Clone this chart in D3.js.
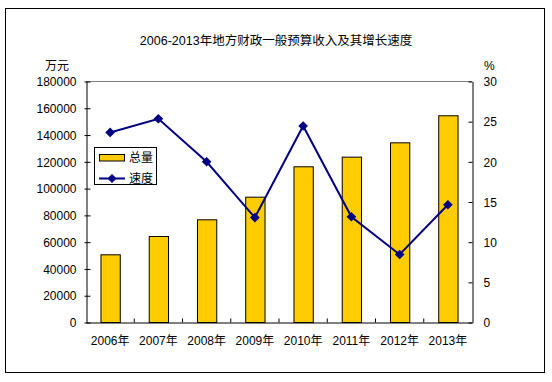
<!DOCTYPE html>
<html>
<head>
<meta charset="utf-8">
<script src="https://cdn.jsdelivr.net/npm/d3@7"></script>
<style>
html,body{margin:0;padding:0;background:#fff;}
text{font-family:"Liberation Sans","Noto Sans CJK SC",Arial,sans-serif;fill:#000;}
</style>
</head>
<body>
<svg id="chart" width="552" height="382"></svg>
<script>
const categories = ["2006年","2007年","2008年","2009年","2010年","2011年","2012年","2013年"];
const totalValues = [50560, 64230, 76700, 93600, 116300, 123500, 134200, 154400];
const speedValues = [23.6, 25.3, 19.95, 13.0, 24.4, 13.1, 8.4, 14.6];
const leftTicks = [0,20000,40000,60000,80000,100000,120000,140000,160000,180000];
const rightTicks = [0,5,10,15,20,25,30];
const titleText = "2006-2013年地方财政一般预算收入及其增长速度";
const leftUnit = "万元";
const rightUnit = "%";
const legendLabels = ["总量","速度"];

const svg = d3.select("#chart");
const L = 86, R = 472, T = 81, B = 322;

// outer frame
svg.append("rect").attr("x",5.5).attr("y",8.5).attr("width",539).attr("height",364)
  .attr("fill","none").attr("stroke","#000").attr("stroke-width",1);

const x = d3.scaleBand().domain(categories).range([L,R]).paddingInner(0.6).paddingOuter(0.3);
const yL = d3.scaleLinear().domain([0,180000]).range([B,T]);
const yR = d3.scaleLinear().domain([0,30]).range([B,T]);

// title
svg.append("text").attr("x",276).attr("y",45).attr("text-anchor","middle")
  .style("font-size","12.5px").text(titleText);

// units
svg.append("text").attr("x",57).attr("y",70).attr("text-anchor","middle").style("font-size","12px").text(leftUnit);
svg.append("text").attr("x",484).attr("y",70).attr("text-anchor","start").style("font-size","12px").text(rightUnit);

// top border of plot
svg.append("line").attr("x1",L).attr("x2",R).attr("y1",T+0.5).attr("y2",T+0.5).attr("stroke","#808080");

// bars
svg.append("g").selectAll("rect").data(categories).join("rect")
  .attr("x",(d)=>x(d)+0.5)
  .attr("y",(d,i)=>yL(totalValues[i])+0.5)
  .attr("width",x.bandwidth())
  .attr("height",(d,i)=>B-yL(totalValues[i]))
  .attr("fill","#FFCC00").attr("stroke","#000").attr("stroke-width",1);

// left axis
const gL = svg.append("g").attr("transform",`translate(${L+0.5},0.5)`)
  .call(d3.axisLeft(yL).tickValues(leftTicks).tickFormat(d3.format("d")).tickSizeInner(-4).tickSizeOuter(0).tickPadding(10));
gL.selectAll("text").style("font-size","12px").attr("dy","0.35em");
gL.selectAll("path,line").attr("stroke","#000");
gL.selectAll(".tick line").attr("x1",-2).attr("x2",4);

// right axis
const gR = svg.append("g").attr("transform",`translate(${R+0.5},0.5)`)
  .call(d3.axisRight(yR).tickValues(rightTicks).tickSizeInner(-4).tickSizeOuter(0).tickPadding(11));
gR.selectAll("text").style("font-size","12px").attr("dy","0.35em");
gR.selectAll("path,line").attr("stroke","#000");

// bottom axis
const gB = svg.append("g").attr("transform",`translate(0,${B+0.5})`)
  .call(d3.axisBottom(x).tickSize(0).tickPadding(14));
gB.selectAll("text").style("font-size","12px");
gB.select(".domain").attr("stroke","#000");
gB.selectAll(".tick").each(function(d){
  if (categories.indexOf(d) > 0) {
    d3.select(this).append("line")
      .attr("x1",-x.step()/2).attr("x2",-x.step()/2).attr("y1",0).attr("y2",-4).attr("stroke","#000");
  }
});

// line
const cx = (d)=>x(d)+x.bandwidth()/2;
const line = d3.line().x((d,i)=>cx(categories[i])).y((d)=>yR(d));
svg.append("path").datum(speedValues).attr("d",line)
  .attr("fill","none").attr("stroke","#000080").attr("stroke-width",2);
const diamond = d3.symbol().type(d3.symbolDiamond2 || d3.symbolDiamond).size(55);
svg.append("g").selectAll("path").data(speedValues).join("path")
  .attr("transform",(d,i)=>`translate(${cx(categories[i])},${yR(d)}) rotate(0)`)
  .attr("d",d3.symbol().type(d3.symbolSquare).size(34))
  .attr("transform",(d,i)=>`translate(${cx(categories[i])},${yR(d)}) rotate(45)`)
  .attr("fill","#000080").attr("stroke","#000080");

// legend
const lg = svg.append("g");
lg.append("rect").attr("x",94.5).attr("y",147.5).attr("width",62).attr("height",37)
  .attr("fill","#fff").attr("stroke","#000");
lg.append("rect").attr("x",99.5).attr("y",154.5).attr("width",25).attr("height",6.5)
  .attr("fill","#FFCC00").attr("stroke","#000");
lg.append("text").attr("x",129).attr("y",158).attr("dy","0.35em").style("font-size","12px").text(legendLabels[0]);
lg.append("line").attr("x1",99).attr("x2",125).attr("y1",178.5).attr("y2",178.5).attr("stroke","#000080").attr("stroke-width",2);
lg.append("path").attr("d",d3.symbol().type(d3.symbolSquare).size(30))
  .attr("transform","translate(112,178.5) rotate(45)").attr("fill","#000080").attr("stroke","#000080");
lg.append("text").attr("x",129).attr("y",178.5).attr("dy","0.35em").style("font-size","12px").text(legendLabels[1]);
</script>
</body>
</html>
